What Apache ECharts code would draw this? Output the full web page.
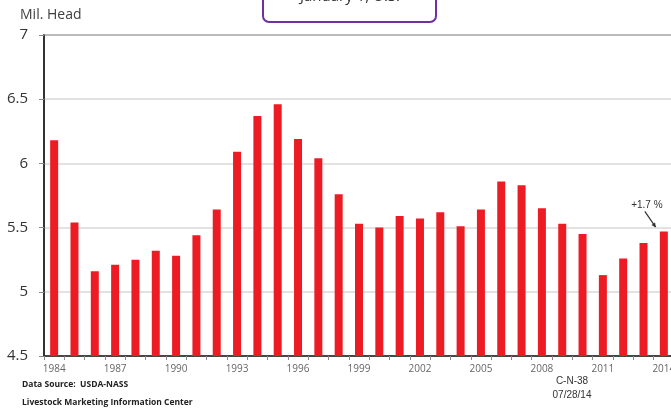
<!DOCTYPE html>
<html>
<head>
<meta charset="utf-8">
<script src="https://cdn.jsdelivr.net/npm/echarts@6/dist/echarts.min.js"></script>
<style>
    html, body { margin: 0; padding: 0; background: #fff; }
    #chart { width: 671px; height: 410px; }
</style>
</head>
<body>
<div id="chart"></div>
<script>
    // January 1 inventory, million head
    const years = []
    for (let y = 1984; y <= 2014; y++) years.push(String(y))
    const inventory = [
        6.18, 5.54, 5.16, 5.21, 5.25, 5.32, 5.28, 5.44, 5.64, 6.09,
        6.37, 6.46, 6.19, 6.04, 5.76, 5.53, 5.50, 5.59, 5.57, 5.62,
        5.51, 5.64, 5.86, 5.83, 5.65, 5.53, 5.45, 5.13, 5.26, 5.38,
        5.47
    ]
    const yTicks = [4.5, 5, 5.5, 6, 6.5, 7]
    const changeNote = '+1.7 %'

    const chart = echarts.init(document.getElementById('chart'))

    const option = {
        animation: false,
        grid: {
            left: 44,
            top: 35,
            width: 630,
            height: 321,
            outerBoundsMode: 'none',
            containLabel: false,
            show: true,
            borderColor: '#333',
            borderWidth: 1.5
        },
        xAxis: {
            type: 'category',
            data: years,
            boundaryGap: true,
            axisLine: { lineStyle: { color: '#222', width: 1.5 } },
            axisTick: { show: true, interval: 0, length: 4, lineStyle: { color: '#888' } },
            axisLabel: {
                interval: 2,
                color: '#666',
                fontSize: 10,
                fontFamily: 'Open Sans',
                margin: 8
            }
        },
        yAxis: {
            type: 'value',
            min: yTicks[0],
            max: yTicks[yTicks.length - 1],
            interval: 0.5,
            axisLine: { show: true, lineStyle: { color: '#222', width: 1.5 } },
            axisTick: { show: true, length: 5, lineStyle: { color: '#888' } },
            axisLabel: {
                color: '#333',
                fontSize: 15,
                fontFamily: 'Open Sans',
                margin: 16,
                formatter: v => String(v)
            },
            splitLine: { lineStyle: { color: '#d9d9d9', width: 1.5 } }
        },
        series: [{
            type: 'bar',
            data: inventory,
            barWidth: 8,
            itemStyle: { color: '#ed1c24' }
        }],
        graphic: [
            {
                id: 'titleBox',
                type: 'rect',
                shape: { x: 263, y: -20, width: 173, height: 42, r: 6 },
                style: { fill: '#fff', stroke: '#7030a0', lineWidth: 2 }
            },
            {
                id: 'titleText',
                type: 'text',
                x: 350, y: 4,
                style: {
                    text: 'January 1, U.S.',
                    fill: '#333',
                    font: '15px "Open Sans"',
                    align: 'center',
                    verticalAlign: 'bottom'
                }
            },
            {
                id: 'unit',
                type: 'text',
                x: 20, y: 8,
                style: { text: 'Mil. Head', fill: '#404040', font: '14px "Open Sans"' }
            },
            {
                id: 'source',
                type: 'text',
                x: 22, y: 380,
                style: { text: 'Data Source:  USDA-NASS', fill: '#222', font: 'bold 8.5px "Open Sans"' }
            },
            {
                id: 'lmic',
                type: 'text',
                x: 22, y: 398,
                style: { text: 'Livestock Marketing Information Center', fill: '#222', font: 'bold 8.5px "Open Sans"' }
            },
            {
                id: 'code',
                type: 'text',
                x: 572, y: 376,
                style: { text: 'C-N-38', fill: '#333', font: '10px "Liberation Sans"', align: 'center' }
            },
            {
                id: 'date',
                type: 'text',
                x: 572, y: 390,
                style: { text: '07/28/14', fill: '#333', font: '10px "Liberation Sans"', align: 'center' }
            }
        ]
    }

    chart.setOption(option)

    // annotation tied to the last bar
    const last = inventory.length - 1
    const barTop = chart.convertToPixel({ gridIndex: 0 }, [years[last], inventory[last]])
    const tip = [barTop[0] - 8, barTop[1] - 4]
    const tail = [barTop[0] - 19, barTop[1] - 20]
    const ang = Math.atan2(tip[1] - tail[1], tip[0] - tail[0])
    const head = 5
    chart.setOption({
        graphic: [
            {
                id: 'noteText',
                type: 'text',
                x: barTop[0] - 17, y: barTop[1] - 31,
                style: { text: changeNote, fill: '#333', font: '10px "Liberation Sans"', align: 'center' }
            },
            {
                id: 'noteLine',
                type: 'line',
                shape: { x1: tail[0], y1: tail[1], x2: tip[0], y2: tip[1] },
                style: { stroke: '#333', lineWidth: 1.2 }
            },
            {
                id: 'noteHead',
                type: 'polygon',
                shape: {
                    points: [
                        tip,
                        [tip[0] - head * Math.cos(ang - 0.45), tip[1] - head * Math.sin(ang - 0.45)],
                        [tip[0] - head * Math.cos(ang + 0.45), tip[1] - head * Math.sin(ang + 0.45)]
                    ]
                },
                style: { fill: '#333' }
            }
        ]
    })
</script>
</body>
</html>
